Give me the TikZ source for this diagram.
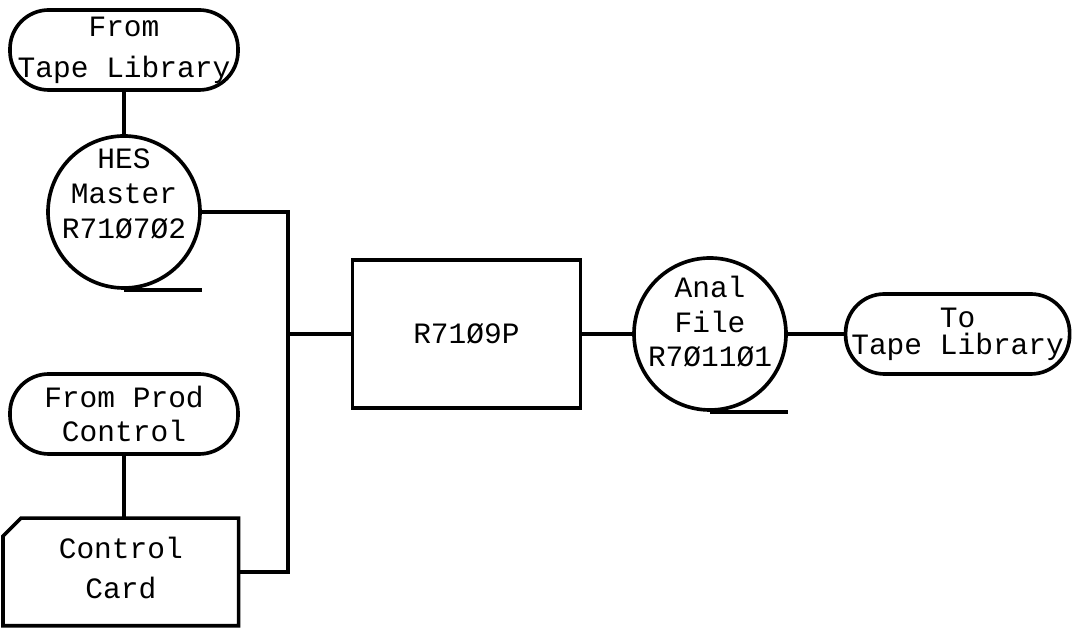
\documentclass[tikz,border=0pt]{standalone}
\usepackage{fontspec}
\setmonofont{Liberation Mono}
\usetikzlibrary{positioning}

\begin{document}
\begin{tikzpicture}[
    line width=2.6pt,
    term/.style={rectangle, draw, rounded corners=0.97cm, minimum width=5.7cm, minimum height=2cm, inner sep=1pt, align=center},
    tape/.style={circle, draw, minimum size=3.8cm},
    proc/.style={rectangle, draw, minimum width=5.7cm, minimum height=3.7cm},
    txt/.style={align=center, font=\ttfamily\fontsize{21}{25}\selectfont}
]
\useasboundingbox (0,0) rectangle (26.8,15.8);

\node[term, txt, font=\ttfamily\fontsize{21}{29}\selectfont] (src) at (3.1,14.55) {From\\Tape Library};
\node[tape] (hes) at (3.1,10.5) {};
\node[txt] (hestxt) at ([yshift=0.45cm]hes.center) {HES\\Master\\R71Ø7Ø2};

\node[term, txt, font=\ttfamily\fontsize{21}{24}\selectfont] (prod) at (3.1,5.45) {From Prod\\Control};
\node[minimum width=5.8cm, minimum height=2.6cm] (card) at (3.02,1.5) {};
\node[txt, font=\ttfamily\fontsize{21}{29}\selectfont] (cardtxt) at ([yshift=0.1cm]card.center) {Control\\Card};

\node[proc, txt] (prog) at (11.66,7.45) {R71Ø9P};
\node[tape] (anal) at (17.75,7.45) {};
\node[txt, font=\ttfamily\fontsize{21}{24.5}\selectfont] (analtxt) at ([yshift=0.3cm]anal.center) {Anal\\File\\R7Ø11Ø1};
\node[term, txt, font=\ttfamily\fontsize{21}{19}\selectfont, minimum width=5.6cm] (dst) at (23.94,7.45) {To\\Tape Library};

\coordinate (bustop) at (7.2,10.5);
\coordinate (bus) at (7.2,7.45);
\coordinate (busbot) at (7.2,1.5);

% card outline with clipped corner
\draw ([yshift=-0.45cm]card.north west) -- ([xshift=0.45cm]card.north west) -- (card.north east)
    -- (card.south east) -- (card.south west) -- cycle;

% tape tails
\draw (hes.south) -- (hes.south -| hes.east);
\draw (anal.south) -- (anal.south -| anal.east);

\draw (src.south) -- (hes.north);
\draw (prod.south) -- (prod.south |- card.north);
\draw (hes.east) -- (bustop) -- (busbot) -- (card.east);
\draw (bus) -- (prog.west);
\draw (prog.east) -- (anal.west);
\draw (anal.east) -- (dst.west);

\end{tikzpicture}
\end{document}
